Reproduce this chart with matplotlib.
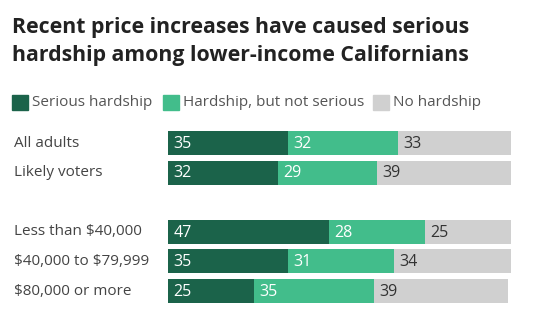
import matplotlib.pyplot as plt
from matplotlib.patches import Rectangle

plt.rcParams['font.family'] = ['Open Sans', 'DejaVu Sans']
plt.rcParams['text.parse_math'] = False

categories = ['All adults', 'Likely voters', 'Less than $40,000',
              '$40,000 to $79,999', '$80,000 or more']
positions = [0, 1, 3, 4, 5]
serious = [35, 32, 47, 35, 25]
not_serious = [32, 29, 28, 31, 35]
no_hardship = [33, 39, 25, 34, 39]
series_names = ['Serious hardship', 'Hardship, but not serious', 'No hardship']
colors = ['#1b634a', '#42bd8b', '#d0d0d0']
text_colors = ['white', 'white', '#333333']

W, H = 554, 321
fig = plt.figure(figsize=(W / 100, H / 100), dpi=100)

# axes placed in pixel terms
left, right, top, bottom = 168, 511, 128, 307
ax = fig.add_axes([left / W, 1 - bottom / H, (right - left) / W, (bottom - top) / H])
ax.set_xlim(0, 100)
ax.set_ylim(5.54, -0.507)
ax.axis('off')

lefts = [0] * len(categories)
for vals, c, tc in zip([serious, not_serious, no_hardship], colors, text_colors):
    ax.barh(positions, vals, left=lefts, height=0.81, color=c, edgecolor='none')
    for p, v, l in zip(positions, vals, lefts):
        ax.text(l + 1.5, p + 0.03, str(v), color=tc, fontsize=11.5, va='center', ha='left')
    lefts = [l + v for l, v in zip(lefts, vals)]

for p, name in zip(positions, categories):
    ax.text(-154 / 3.43, p, name, color='#444444', fontsize=11, va='center', ha='left')

# title
fig.text(12 / W, 1 - 28 / H, 'Recent price increases have caused serious',
         fontsize=15.3, fontweight='bold', color='#222222', va='center', ha='left')
fig.text(12 / W, 1 - 55 / H, 'hardship among lower-income Californians',
         fontsize=15.3, fontweight='bold', color='#222222', va='center', ha='left')

# legend
legend_x = [12, 163, 373]
for x, name, c in zip(legend_x, series_names, colors):
    fig.patches.append(Rectangle((x / W, 1 - 110 / H), 16 / W, 15 / H,
                                 transform=fig.transFigure, color=c))
    fig.text((x + 20) / W, 1 - 103 / H, name, fontsize=11, color='#555555',
             va='center', ha='left')

fig.savefig('out.png', dpi=100)
